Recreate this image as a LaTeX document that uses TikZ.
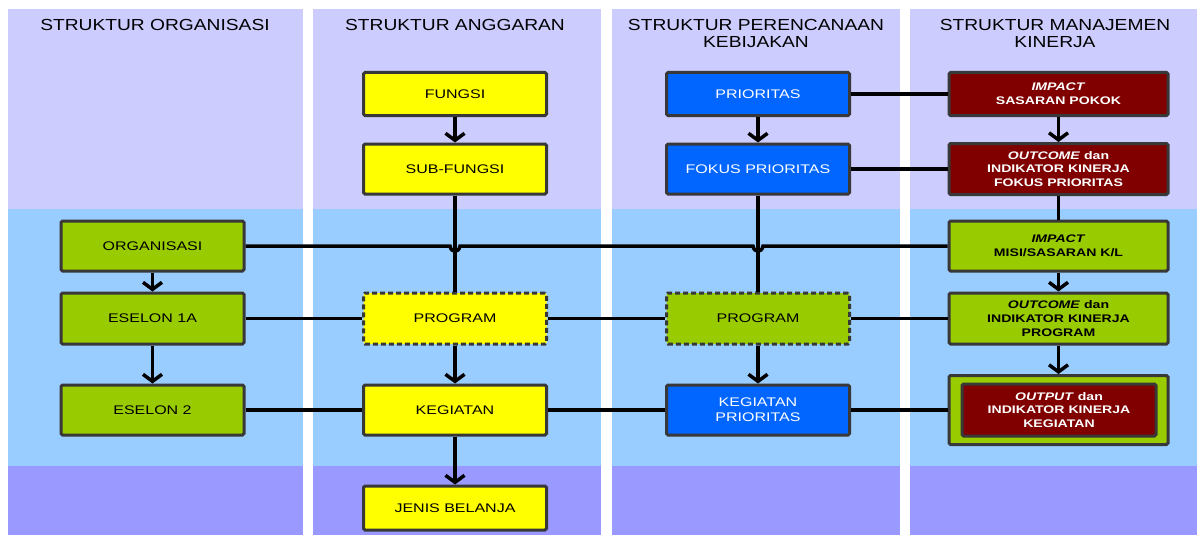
\documentclass[tikz,border=0pt]{standalone}
\usepackage{fontspec}
\setmainfont{Liberation Sans}[FakeStretch=1.28]
\newfontfamily\headfont{Liberation Sans}[FakeStretch=1.2]
\usetikzlibrary{arrows.meta}
\definecolor{lav}{HTML}{CCCCFF}
\definecolor{lblue}{HTML}{99CCFF}
\definecolor{viol}{HTML}{9999FF}
\definecolor{yel}{HTML}{FFFF00}
\definecolor{grn}{HTML}{99CC00}
\definecolor{blu}{HTML}{0066FF}
\definecolor{dred}{HTML}{800000}
\definecolor{bord}{HTML}{383838}
\tikzset{
  box/.style={draw=bord, line width=3pt, rounded corners=1.5pt, minimum width=183pt,
    align=center, inner sep=0pt, font=\fontsize{12.5}{15}\selectfont},
  ybox/.style={box, fill=yel},
  gbox/.style={box, fill=grn},
  bbox/.style={box, fill=blu, text=white},
  dashbox/.style={dash pattern=on 5pt off 3pt},
  kbox/.style={box, minimum width=219pt, font=\fontsize{11}{13.8}\selectfont\bfseries},
  rbox/.style={kbox, fill=dred, text=white},
  kgbox/.style={kbox, fill=grn},
  conn/.style={draw=black, line width=3.5pt},
  arr/.style={conn, -{Straight Barb[length=7pt,width=19pt]}},
  head/.style={anchor=north, inner sep=0pt, align=center,
    font=\headfont\fontsize{16}{17.5}\selectfont},
}
\begin{document}
\begin{tikzpicture}[x=1pt,y=-1pt]
\useasboundingbox (0,0) rectangle (1197,535);
\fill[white] (0,0) rectangle (1197,535);
% bands
\foreach \xa/\xb in {8/303, 313/601, 612/900, 910/1197}{
  \fill[lav] (\xa,9) rectangle (\xb,209);
  \fill[lblue] (\xa,209) rectangle (\xb,466);
  \fill[viol] (\xa,466) rectangle (\xb,535);
}
% headers
\node[head] (h1) at (155,19) {STRUKTUR ORGANISASI};
\node[head] (h2) at (455,19) {STRUKTUR ANGGARAN};
\node[head] (h3) at (756,19) {STRUKTUR PERENCANAAN\\KEBIJAKAN};
\node[head] (h4) at (1055,19) {STRUKTUR MANAJEMEN\\KINERJA};
% column 1
\node[gbox, minimum height=50pt] (org) at (152.5,246) {ORGANISASI};
\node[gbox, minimum height=51pt] (es1) at (152.5,318.5) {ESELON 1A};
\node[gbox, minimum height=50pt] (es2) at (152.5,410) {ESELON 2};
% column 2
\node[ybox, minimum height=43pt] (fungsi) at (455,94) {FUNGSI};
\node[ybox, minimum height=50pt] (subf) at (455,169) {SUB-FUNGSI};
\node[ybox, dashbox, minimum height=51pt] (prog1) at (455,318.5) {PROGRAM};
\node[ybox, minimum height=50pt] (keg) at (455,410) {KEGIATAN};
\node[ybox, minimum height=44pt] (jenis) at (455,508) {JENIS BELANJA};
% column 3
\node[bbox, minimum height=43pt] (prior) at (758,94) {PRIORITAS};
\node[bbox, minimum height=50pt] (fokus) at (758,169) {FOKUS PRIORITAS};
\node[gbox, dashbox, minimum height=51pt] (prog2) at (758,318.5) {PROGRAM};
\node[bbox, minimum height=50pt] (kegp) at (758,410) {KEGIATAN\\PRIORITAS};
% column 4
\node[rbox, minimum height=43pt] (imp) at (1058.5,94) {\textit{IMPACT}\\SASARAN POKOK};
\node[rbox, minimum height=51pt] (outc) at (1058.5,169) {\textit{OUTCOME} dan\\INDIKATOR KINERJA\\FOKUS PRIORITAS};
\node[kgbox, minimum height=50pt] (impm) at (1058.5,246) {\textit{IMPACT}\\MISI/SASARAN K/L};
\node[kgbox, minimum height=51pt] (outp) at (1058.5,318.5) {\textit{OUTCOME} dan\\INDIKATOR KINERJA\\PROGRAM};
\node[kgbox, minimum height=69pt] (outer) at (1058.5,410) {};
\node[rbox, minimum width=194pt, minimum height=52pt] (outin) at (1059,410) {\textit{OUTPUT} dan\\INDIKATOR KINERJA\\KEGIATAN};
% vertical connectors
\draw[arr] (org) -- (es1);
\draw[arr] (es1) -- (es2);
\draw[arr] (fungsi) -- (subf);
\draw[conn] (subf) -- (prog1);
\draw[arr] (prog1) -- (keg);
\draw[arr] (keg) -- (jenis);
\draw[arr] (prior) -- (fokus);
\draw[conn] (fokus) -- (prog2);
\draw[arr] (prog2) -- (kegp);
\draw[arr] (imp) -- (outc);
\draw[conn] (outc) -- (impm);
\draw[arr] (impm) -- (outp);
\draw[arr] (outp) -- (outer);
% horizontal connectors
\draw[conn] (prior) -- (imp);
\draw[conn] (fokus) -- (outc);
\coordinate (hopa) at (455,246);
\coordinate (hopb) at (758,246);
\draw[conn] (org.east) -- ([xshift=-5pt]hopa) .. controls ([xshift=-4pt,yshift=-7pt]hopa) and ([xshift=4pt,yshift=-7pt]hopa) .. ([xshift=5pt]hopa)
  -- ([xshift=-5pt]hopb) .. controls ([xshift=-4pt,yshift=-7pt]hopb) and ([xshift=4pt,yshift=-7pt]hopb) .. ([xshift=5pt]hopb) -- (impm.west);
\draw[conn] (es1) -- (prog1);
\draw[conn] (prog1) -- (prog2);
\draw[conn] (prog2) -- (outp);
\draw[conn] (es2) -- (keg);
\draw[conn] (keg) -- (kegp);
\draw[conn] (kegp) -- (outer);
\end{tikzpicture}
\end{document}
